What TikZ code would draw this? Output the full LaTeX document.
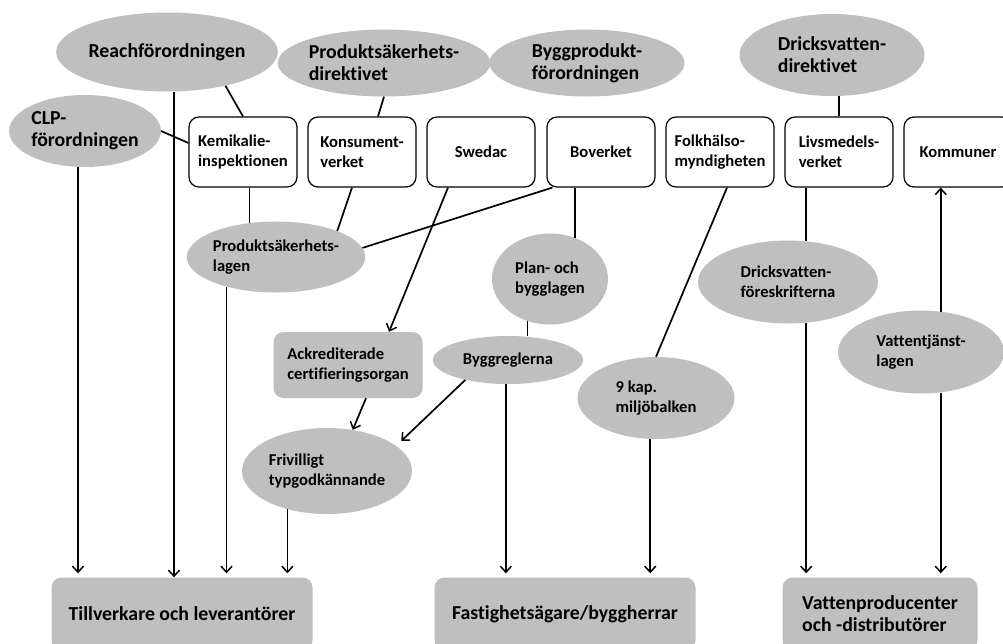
\documentclass[tikz,border=0pt]{standalone}
\usepackage{fontspec}
\setmainfont{Carlito}[Ligatures=NoCommon]
\usetikzlibrary{shapes.geometric,arrows.meta}

\definecolor{lawgray}{RGB}{191,191,191}

\begin{document}
\begin{tikzpicture}[x=1pt,y=-1pt]
       \tikzstyle{every node}=[font=\bfseries\fontsize{16.6}{20}\selectfont, align=left, inner sep=0pt]
       \tikzstyle{law}=[ellipse, fill=lawgray]
       \tikzstyle{biglaw}=[law, font=\bfseries\fontsize{19.8}{22}\selectfont]
       \tikzstyle{agency}=[draw, rounded corners=10pt, line width=1.2pt, minimum width=108pt, minimum height=70pt]
       \tikzstyle{actor}=[fill=lawgray, rounded corners=10pt]
       \tikzstyle{link}=[line width=1.7pt]
       \tikzstyle{flow}=[link, -{Straight Barb[length=6pt,width=11pt,line width=1.5pt]}]

   \useasboundingbox (0,0) rectangle (1003,643);

% EU-regler
   \node[biglaw, minimum width=213pt, minimum height=79pt] (reach) at (167,52) {Reachförordningen};
   \node[biglaw, minimum width=195pt, minimum height=67pt] (psdir) at (384,63) {Produktsäkerhets-\\direktivet};
   \node[biglaw, minimum width=195pt, minimum height=67pt] (byggfo) at (587,63) {Byggprodukt-\\förordningen};
   \node[biglaw, minimum width=185pt, minimum height=82pt] (dvdir) at (832,55) {Dricksvatten-\\direktivet};
   \node[biglaw, minimum width=146pt, minimum height=72pt] (clp) at (85,131) {CLP-\\förordningen};

% Myndigheter
   \node[agency] (kemi) at (243,152) {Kemikalie-\\inspektionen};
   \node[agency] (konsument) at (362,152) {Konsument-\\verket};
   \node[agency] (swedac) at (481,152) {Swedac};
   \node[agency] (boverket) at (601,152) {Boverket};
   \node[agency] (folkhalsa) at (720,152) {Folkhälso-\\myndigheten};
   \node[agency] (livsmedel) at (839,152) {Livsmedels-\\verket};
   \node[agency] (kommuner) at (958,152) {Kommuner};

% Svenska lagar och regler
   \node[law, minimum width=172pt, minimum height=71pt] (pslag) at (276,257) {Produktsäkerhets-\\lagen};
   \node[law, minimum width=116pt, minimum height=91pt] (pbl) at (550,279) {Plan- och\\bygglagen};
   \node[law, minimum width=150pt, minimum height=48pt] (byggregler) at (508,360) {Byggreglerna};
   \node[actor, minimum width=149pt, minimum height=66pt] (ackred) at (348,365) {Ackrediterade\\certifieringsorgan};
   \node[law, minimum width=157pt, minimum height=82pt] (miljo) at (656,398) {9 kap.\\miljöbalken};
   \node[law, minimum width=180pt, minimum height=83pt] (dvforeskr) at (788,282) {Dricksvatten-\\föreskrifterna};
   \node[law, minimum width=166pt, minimum height=83pt] (vtlag) at (921,352) {Vattentjänst-\\lagen};
   \node[law, minimum width=170pt, minimum height=86pt] (frivilligt) at (327,471) {Frivilligt\\typgodkännande};

% Aktörer
   \node[actor, minimum width=261pt, minimum height=73pt, font=\bfseries\fontsize{19.8}{22}\selectfont] (tillverkare) at (182,614) {Tillverkare och leverantörer};
   \node[actor, minimum width=261pt, minimum height=73pt, font=\bfseries\fontsize{19.8}{22}\selectfont] (fastighet) at (565,614) {Fastighetsägare/byggherrar};
   \node[actor, minimum width=195pt, minimum height=73pt, font=\bfseries\fontsize{19.8}{22}\selectfont] (vattenprod) at (880,614) {Vattenproducenter\\och -distributörer};

% kopplingar
   \draw[link] (reach.-30) -- (kemi.north);
   \draw[link] (clp.east) -- ([yshift=9pt]kemi.west);
   \draw[link] (psdir.south) -- ([xshift=16pt]konsument.north);
   \draw[link] (dvdir.south -| livsmedel.north) -- (livsmedel.north);
   \draw[link] (pslag.128) -- (pslag.128 |- kemi.south);
   \draw[link] ([xshift=-10pt]konsument.south) -- (pslag.23);
   \draw[link] ([xshift=6pt]boverket.south west) -- (pslag.6);
   \draw[link] (pbl.59) -- (pbl.59 |- boverket.south);
   \draw[link] (pbl.-118) -- (pbl.-118 |- byggregler.north);
   \draw[link] ([xshift=7pt]folkhalsa.south) -- (miljo.north);
   \draw[link] (dvforeskr.66) -- (dvforeskr.66 |- livsmedel.south);
   \draw[flow] ([xshift=-33pt]swedac.south) -- ([xshift=41pt]ackred.north);
   \draw[flow] ([xshift=18pt]ackred.south) -- (frivilligt.58);
   \draw[flow, shorten >=7pt] (byggregler.-155) -- (frivilligt.20);
   \draw[flow] (vtlag.64) -- (vtlag.64 |- kommuner.south);

% till aktörerna
   \draw[flow, shorten >=4pt] (clp.-101) -- (clp.-101 |- tillverkare.north);
   \draw[flow] (reach.-80) -- (reach.-80 |- tillverkare.north);
   \draw[flow, shorten >=4pt] (pslag.-149) -- (pslag.-149 |- tillverkare.north);
   \draw[flow, shorten >=4pt] (frivilligt.-136) -- (frivilligt.-136 |- tillverkare.north);
   \draw[flow, shorten >=4pt] (byggregler.-95) -- (byggregler.-95 |- fastighet.north);
   \draw[flow, shorten >=4pt] (miljo.-98) -- (miljo.-98 |- fastighet.north);
   \draw[flow, shorten >=4pt] (dvforeskr.-66) -- (dvforeskr.-66 |- vattenprod.north);
   \draw[flow, shorten >=4pt] (vtlag.-64) -- (vtlag.-64 |- vattenprod.north);

\end{tikzpicture}
\end{document}
